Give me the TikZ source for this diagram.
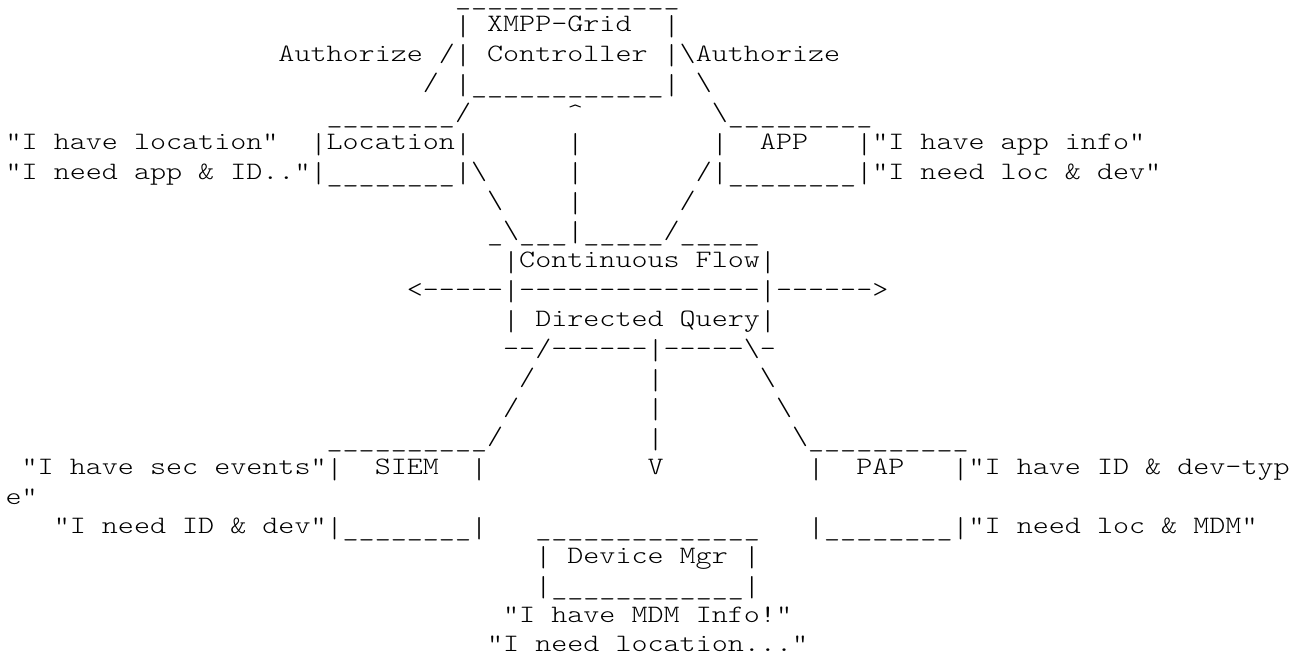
\documentclass[tikz,border=0pt]{standalone}
\usepackage{graphicx}
\usepackage{fontspec}
\newfontfamily\asciifont[FakeStretch=1.2229,Ligatures=TeXOff]{lmmonolt10-regular.otf}

\newcommand\bsl{\textbackslash}
\newcommand\vb{\raisebox{-1.75pt}{\scalebox{1}[1.15]{|}}}
\newcommand\us[1]{\foreach\k in {1,...,#1}{\raisebox{-1.5pt}{\_}}}
\newcommand\ds[1]{\foreach\k in {1,...,#1}{-}}

\begin{document}
\frenchspacing
\begin{tikzpicture}[
    x=8.025pt, y=-14.76pt,
    asciirow/.style={
        anchor=base west,
        inner sep=0pt,
        outer sep=0pt,
        font=\asciifont\fontsize{12.5}{14}\selectfont
    }
]

\path[use as bounding box, fill=white] (-0.349,0.926) rectangle (80.897,23.114);

% XMPP-Grid controller
\node[asciirow] (xmpptop) at (28,1) {\us{14}};
\node[asciirow] (xmpp) at (28,2) {\vb~XMPP-Grid~~\vb};
\node[asciirow] (ctrl) at (17,3) {Authorize~/\vb~Controller~\vb\bsl{}Authorize};
\node[asciirow] (xmppbot) at (26,4) {/~\vb\us{12}\vb~\bsl};

% Location and APP
\node[asciirow] (sidetops) at (20,5) {\us{8}/~~~~~~\textasciicircum~~~~~~~~\bsl\us{9}};
\node[asciirow] (loc) at (0,6) {"I have location"~~\vb{}Location\vb~~~~~~\vb~~~~~~~~\vb~~APP~~~\vb"I have app info"};
\node[asciirow] (locbot) at (0,7) {"I need app \& ID.."\vb\us{8}\vb\bsl~~~~~\vb~~~~~~~/\vb\us{8}\vb"I need loc \& dev"};
\node[asciirow] (links) at (30,8) {\bsl~~~~\vb~~~~~~/};

% Continuous flow / directed query
\node[asciirow] (flowtop) at (30,9) {\us{1}\bsl\us{3}\vb\us{5}/\us{5}};
\node[asciirow] (flow) at (31,10) {\vb{}Continuous Flow\vb};
\node[asciirow] (bus) at (25,11) {<\ds{5}\vb\ds{15}\vb\ds{6}>};
\node[asciirow] (query) at (31,12) {\vb~Directed Query\vb};
\node[asciirow] (querybot) at (31,13) {\ds{2}/\ds{6}\vb\ds{5}\bsl-};
\node[asciirow] (legs) at (32,14) {/~~~~~~~\vb~~~~~~\bsl};
\node[asciirow] (legsb) at (31,15) {/~~~~~~~~\vb~~~~~~~\bsl};

% SIEM, PAP and device manager
\node[asciirow] (boxtops) at (20,16) {\us{10}/~~~~~~~~~\vb~~~~~~~~\bsl\us{10}};
\node[asciirow] (siem) at (1,17) {"I have sec events"\vb~~SIEM~~\vb~~~~~~~~~~V~~~~~~~~~\vb~~PAP~~~\vb"I have ID \& dev-typ};
\node[asciirow] (wrap) at (0,18) {e"};
\node[asciirow] (siembot) at (3,19) {"I need ID \& dev"\vb\us{8}\vb~~~\us{14}~~~\vb\us{8}\vb"I need loc \& MDM"};
\node[asciirow] (dev) at (33,20) {\vb~Device Mgr~\vb};
\node[asciirow] (devbot) at (33,21) {\vb\us{12}\vb};
\node[asciirow] (devhave) at (31,22) {"I have MDM Info!"};
\node[asciirow] (devneed) at (30,23) {"I need location..."};

\end{tikzpicture}
\end{document}
